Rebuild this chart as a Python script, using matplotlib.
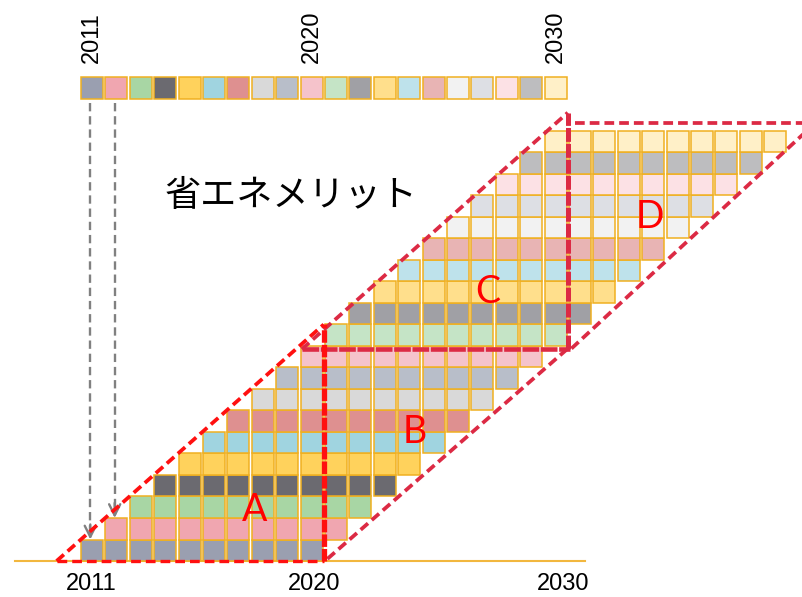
import matplotlib
matplotlib.use("Agg")
import matplotlib.pyplot as plt

plt.rcParams['lines.scale_dashes'] = False

# Cohort data (one cohort per year, each lasting ten years)
cohort_years = [2011, 2012, 2013, 2014, 2015, 2016, 2017, 2018, 2019, 2020,
                2021, 2022, 2023, 2024, 2025, 2026, 2027, 2028, 2029, 2030]
lifetimes = [10, 10, 10, 10, 10, 10, 10, 10, 10, 10,
             10, 10, 10, 10, 10, 10, 10, 10, 10, 10]
cohort_colors = ['#9A9FB0', '#F0A6B0', '#A8D6A4', '#6B6A70', '#FFD25C',
                 '#A0D4E0', '#DE9090', '#D9D9D9', '#B8BEC9', '#F5C3CB',
                 '#C5E4C6', '#A0A0A5', '#FFDF8C', '#BEE2EB', '#E8B4B4',
                 '#F2F2F2', '#DDDFE4', '#FCE1E5', '#BDBDBF', '#FFF0C8']
top_labels = ['2011', '2020', '2030']
bottom_labels = ['2011', '2020', '2030']
bottom_label_x = [0.4, 9.55, 19.75]
region_labels = ['A', 'B', 'C', 'D']
region_label_xy = [(7.13, 2.37), (13.69, 6.0), (16.68, 12.5), (23.32, 16.0)]
title_text = '省エネメリット'

edge = '#F0B020'
red = '#FF1010'
crimson = '#DC2A44'

fig = plt.figure(figsize=(8.02, 5.97), dpi=100)
ax = fig.add_axes([0, 0, 1, 1])
ax.set_xlim(-3.32, 29.55)
ax.set_ylim(-1.674, 26.09)
ax.axis('off')

# staircase of cohort cells
for i, (yr, life) in enumerate(zip(cohort_years, lifetimes)):
    start = yr - cohort_years[0]
    cols = list(range(start, start + life))
    ax.bar(cols, [1.0] * life, bottom=i, width=0.9, align='edge',
           color=cohort_colors[i], edgecolor=edge, linewidth=1.1, zorder=2)

# legend strip on top
idx = [y - cohort_years[0] for y in cohort_years]
ax.bar(idx, [1.0] * len(idx), bottom=21.5, width=0.9, align='edge',
       color=cohort_colors, edgecolor=edge, linewidth=1.1, zorder=2)

for lab in top_labels:
    k = int(lab) - cohort_years[0]
    ax.text(k + 0.45, 23.15, lab, rotation=90, ha='center', va='bottom',
            fontsize=17, family='Liberation Sans', color='black')

for lab, bx in zip(bottom_labels, bottom_label_x):
    ax.text(bx, -1.05, lab, ha='center', va='center', fontsize=17,
            family='Liberation Sans', color='black')

# baseline
ax.plot([-2.7, 20.66], [0, 0], color='#F2B73E', lw=1.5, zorder=1)

# gray dashed arrows from the strip to the first cells
for k in range(2):
    ax.plot([k + 0.38, k + 0.38], [21.3, k + 1.15], color='#808080', lw=1.7,
            dashes=(6, 3.5), zorder=3)
    ax.annotate('', xy=(k + 0.38, k + 1.0), xytext=(k + 0.38, k + 1.7),
                arrowprops=dict(arrowstyle='->', color='#808080', lw=1.7,
                                mutation_scale=20, shrinkA=0, shrinkB=0),
                zorder=3)

# region A
ax.plot([-1, 9.95], [0, 11], color=red, lw=2.7, dashes=(7, 3.6), zorder=4)
ax.plot([-1, 9.95], [0, 0], color=red, lw=2.4, dashes=(7, 3.6), zorder=4)
ax.plot([9.95, 9.95], [0, 11], color=red, lw=3.8, dashes=(9, 1.5), zorder=5)

# region B
ax.plot([10.1, 19.95], [0.1, 9.88], color=crimson, lw=2.7, dashes=(7, 3.6), zorder=4)

# region C
ax.plot([9.05, 19.95], [9.85, 20.85], color=crimson, lw=2.7, dashes=(7, 3.6), zorder=4)
ax.plot([9.05, 20.05], [9.88, 9.88], color=crimson, lw=3.3, dashes=(12, 1.2), zorder=4)
ax.plot([19.95, 19.95], [9.88, 20.85], color=crimson, lw=3.6, dashes=(10, 1.5), zorder=5)

# region D
ax.plot([20.25, 30.5], [20.35, 20.35], color=crimson, lw=2.7, dashes=(7, 3.6), zorder=4)
ax.plot([20.1, 30.6], [9.88, 20.9], color=crimson, lw=2.7, dashes=(7, 3.6), zorder=4)

for lab, (lx, ly) in zip(region_labels, region_label_xy):
    ax.text(lx, ly, lab, ha='center', va='center', fontsize=27,
            family='Lato', color='#FF0000', zorder=6)

ax.text(3.44, 16.98, title_text, ha='left', va='center', fontsize=26,
        family=['Noto Sans CJK JP', 'DejaVu Sans'], color='black', zorder=6)

fig.savefig('out.png', dpi=100)
